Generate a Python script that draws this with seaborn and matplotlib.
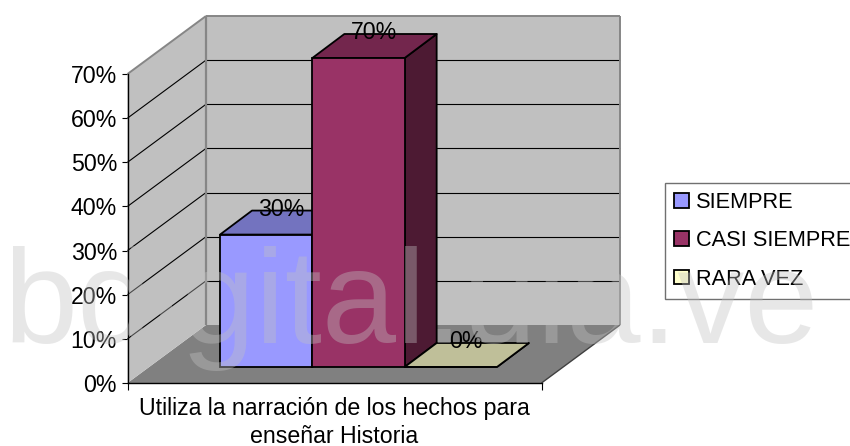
import matplotlib
matplotlib.use("Agg")
import matplotlib.pyplot as plt
import numpy as np
import pandas as pd
import seaborn as sns
from matplotlib.patches import Polygon
from matplotlib.transforms import Affine2D, IdentityTransform
from matplotlib.ticker import FixedLocator, FuncFormatter

# ---- data ----
category = ["Utiliza la narración de los hechos para\nenseñar Historia"]
responses = ["SIEMPRE", "CASI SIEMPRE", "RARA VEZ"]
percent = [30, 70, 0]
y_ticks = [0, 10, 20, 30, 40, 50, 60, 70]
colors = ["#9999FF", "#993366", "#FFFFCC"]
watermark = "bdigital.ula.ve"

# ---- layout (pixels) ----
W, H = 850, 446
AX_L, AX_R, AX_TOP, AX_BOT = 127.5, 541.5, 74, 383
WALL = (78.5, 58)
BAR_FRONT = (24, 16)
BAR_BACK = (56, 40)
FS = 16.7
LEG_FS = 15.7

sns.set_style("white")
plt.rcParams["font.family"] = ["Liberation Sans", "DejaVu Sans"]
fig = plt.figure(figsize=(W / 100, H / 100), dpi=100)
ax = fig.add_axes([AX_L / W, 1 - AX_BOT / H, (AX_R - AX_L) / W, (AX_BOT - AX_TOP) / H])

df = pd.DataFrame({"tema": category * len(responses), "resp": responses, "pct": percent})
sns.barplot(data=df, x="tema", y="pct", hue="resp", hue_order=responses,
            palette=colors, saturation=1, width=0.8, edgecolor="black",
            linewidth=1.3, ax=ax, legend=True, zorder=5)
ax.set_xlim(-0.598, 0.598)
ax.set_ylim(0, 70)
ax.set_xlabel("")
ax.set_ylabel("")
ax.patch.set_alpha(0)


def pt(x, y, off=(0, 0)):
    px, py = ax.transData.transform((x, y))
    return (px + off[0], py + off[1])


def poly(points, face, edge="none", lw=0.0, z=1):
    ax.add_patch(Polygon(points, closed=True, facecolor=face, edgecolor=edge, linewidth=lw,
                         transform=IdentityTransform(), clip_on=False, zorder=z,
                         joinstyle="round"))


def line(p, q, color="black", lw=0.8, z=2):
    ax.plot([p[0], q[0]], [p[1], q[1]], color=color, lw=lw, transform=IdentityTransform(),
            clip_on=False, zorder=z, solid_capstyle="butt")


x0, x1 = ax.get_xlim()
ymax = max(y_ticks)
# floor, left wall, back wall
poly([pt(x0, 0), pt(x1, 0), pt(x1, 0, WALL), pt(x0, 0, WALL)], "#808080")
poly([pt(x0, 0), pt(x0, ymax), pt(x0, ymax, WALL), pt(x0, 0, WALL)], "#C0C0C0")
poly([pt(x0, 0, WALL), pt(x1, 0, WALL), pt(x1, ymax, WALL), pt(x0, ymax, WALL)], "#C0C0C0")
for v in y_ticks[1:-1]:
    line(pt(x0, v), pt(x0, v, WALL))
    line(pt(x0, v, WALL), pt(x1, v, WALL))
GREY = "#868686"
line(pt(x0, ymax), pt(x0, ymax, WALL), GREY, 1.4, 3)
line(pt(x0, ymax, WALL), pt(x1, ymax, WALL), GREY, 1.4, 3)
line(pt(x0, 0, WALL), pt(x0, ymax, WALL), GREY, 1.6, 3)
line(pt(x1, 0, WALL), pt(x1, ymax, WALL), GREY, 1.4, 3)
line(pt(x1, 0), pt(x1, 0, WALL), "#404040", 1.0, 3)


def shade(hex_color, k):
    rgb = np.array(matplotlib.colors.to_rgb(hex_color)) * k
    return tuple(rgb)


# bars: move seaborn's rectangles onto the bar plane and add their depth faces
front_tf = ax.transData + Affine2D().translate(*BAR_FRONT)
for i, (cont, col, val) in enumerate(zip(ax.containers, colors, percent)):
    for bar in cont:
        bar.set_transform(front_tf)
        bar.set_clip_on(False)
        a, b = bar.get_x(), bar.get_x() + bar.get_width()
        h = bar.get_height()
        poly([pt(b, 0, BAR_FRONT), pt(b, 0, BAR_BACK), pt(b, h, BAR_BACK), pt(b, h, BAR_FRONT)],
             shade(col, 0.5), "black", 1.3, 4)
        poly([pt(a, h, BAR_FRONT), pt(b, h, BAR_FRONT), pt(b, h, BAR_BACK), pt(a, h, BAR_BACK)],
             shade(col, 0.75), "black", 1.3, 4)
        ax.annotate(f"{val}%", xy=((a + b) / 2, h), xycoords=front_tf,
                    xytext=(15.5 * 0.72, 25.5 * 0.72), textcoords="offset points",
                    ha="center", va="center", fontsize=FS, color="black", zorder=6,
                    annotation_clip=False)

# axes
sns.despine(ax=ax, top=True, right=True, left=False, bottom=False)
for s in ("left", "bottom"):
    ax.spines[s].set_color("black")
    ax.spines[s].set_linewidth(1.0)
    ax.spines[s].set_zorder(4)
ax.yaxis.set_major_locator(FixedLocator(y_ticks))
ax.yaxis.set_major_formatter(FuncFormatter(lambda v, _: f"{v:.0f}%"))
ax.tick_params(axis="y", left=True, length=4, width=0.8, color="black", pad=3.5,
               labelsize=FS, labelcolor="black")
ax.tick_params(axis="x", bottom=False, pad=6.5, labelsize=FS, labelcolor="black")
ax.xaxis.set_minor_locator(FixedLocator([x0, x1]))
ax.tick_params(axis="x", which="minor", bottom=True, length=5, width=0.8, color="black")
for lab in ax.get_xticklabels():
    lab.set_linespacing(1.27)

# legend
handles, labels = ax.get_legend_handles_labels()
leg = ax.legend(handles, labels, loc="upper left", bbox_to_anchor=(665 / W, 1 - 183 / H),
                bbox_transform=fig.transFigure, borderaxespad=0, fontsize=LEG_FS,
                frameon=True, fancybox=False, framealpha=1, edgecolor="#707070",
                handlelength=0.66, handleheight=0.66, handletextpad=0.32,
                labelspacing=0.79, borderpad=0.42, title=None)
leg.get_frame().set_linewidth(1.0)
leg.set_zorder(10)
for t in leg.get_texts():
    t.set_color("black")

# watermark
fig.text(3 / W, 1 - 343 / H, watermark, fontsize=96, color="#C2C2C2", alpha=0.38,
         ha="left", va="baseline", zorder=20)

fig.savefig("out.png", dpi=100)
